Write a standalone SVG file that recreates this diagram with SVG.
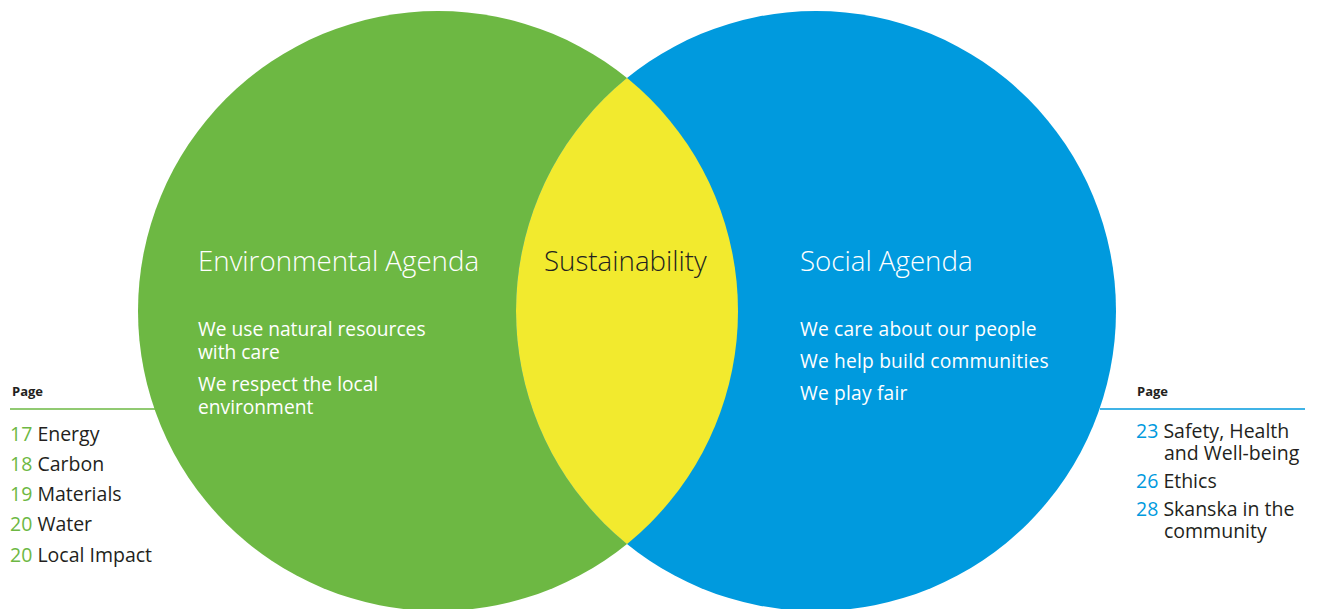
<svg xmlns="http://www.w3.org/2000/svg" width="1318" height="609" viewBox="0 0 1318 609">
<style>
.t{font-family:"Open Sans","Noto Sans",sans-serif;}
.h{font-size:27.7px;font-weight:300;}
.b{font-size:19.2px;font-weight:400;fill:#fff;}
.w{fill:#fff;}
.pg{font-size:13px;font-weight:700;fill:#231f20;}
.li{font-size:19.5px;fill:#231f20;}
.gn{fill:#6db843;}
.bn{fill:#009ade;}
</style>
<defs>
<clipPath id="gclip"><circle cx="438" cy="311" r="300"/></clipPath>
</defs>
<g id="environmental">
<circle cx="438" cy="311" r="300" fill="#6db843"/>
<text class="t h w" x="198" y="271">Environmental Agenda</text>
<text class="t b" x="198" y="336">We use natural resources</text>
<text class="t b" x="198" y="359">with care</text>
<text class="t b" x="198" y="391">We respect the local</text>
<text class="t b" x="198" y="414">environment</text>
</g>
<g id="social">
<circle cx="816" cy="311" r="300" fill="#009ade"/>
<text class="t h w" x="800" y="271">Social Agenda</text>
<text class="t b" x="800" y="336" letter-spacing="0.2">We care about our people</text>
<text class="t b" x="800" y="368" letter-spacing="0.2">We help build communities</text>
<text class="t b" x="800" y="400" letter-spacing="0.2">We play fair</text>
</g>
<g id="sustainability">
<circle cx="816" cy="311" r="300" fill="#f2ea2e" clip-path="url(#gclip)"/>
<text class="t h" x="544" y="271" fill="#231f20" font-weight="400">Sustainability</text>
</g>
<g id="connectors">
<line x1="10" y1="409" x2="155" y2="409" stroke="#6db843" stroke-width="1.5"/>
<line x1="1100" y1="409" x2="1305" y2="409" stroke="#009ade" stroke-width="1.5"/>
</g>
<g id="env-pages">
<text class="t pg" x="12" y="396">Page</text>
<text class="t li" x="10" y="441"><tspan class="gn">17</tspan> Energy</text>
<text class="t li" x="10" y="471"><tspan class="gn">18</tspan> Carbon</text>
<text class="t li" x="10" y="501"><tspan class="gn">19</tspan> Materials</text>
<text class="t li" x="10" y="531"><tspan class="gn">20</tspan> Water</text>
<text class="t li" x="10" y="562"><tspan class="gn">20</tspan> Local Impact</text>
</g>
<g id="social-pages">
<text class="t pg" x="1137" y="396">Page</text>
<text class="t li" x="1136" y="438"><tspan class="bn">23</tspan> Safety, Health</text>
<text class="t li" x="1164" y="460">and Well-being</text>
<text class="t li" x="1136" y="488"><tspan class="bn">26</tspan> Ethics</text>
<text class="t li" x="1136" y="516"><tspan class="bn">28</tspan> Skanska in the</text>
<text class="t li" x="1164" y="538">community</text>
</g>
</svg>
